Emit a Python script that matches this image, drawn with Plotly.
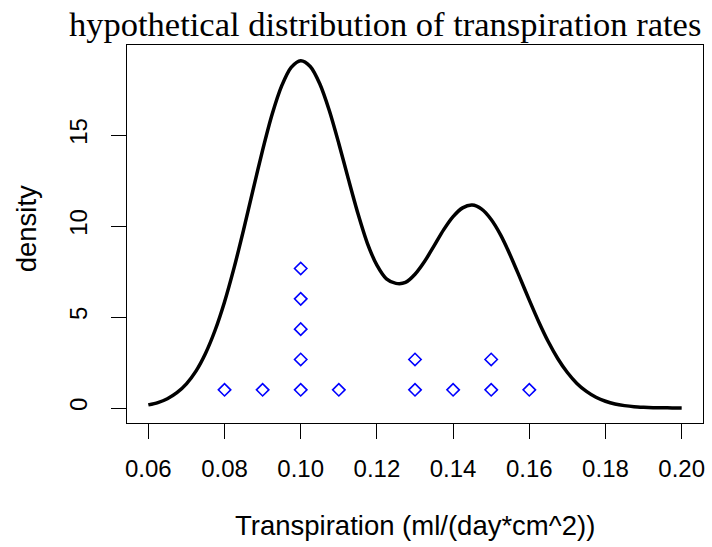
import plotly.graph_objects as go

# density curve
curve_x = [0.0600, 0.0625, 0.0650, 0.0675, 0.0700, 0.0725, 0.0750, 0.0775, 0.0800, 0.0825,
           0.0850, 0.0875, 0.0900, 0.0925, 0.0950, 0.0975, 0.1000, 0.1025, 0.1050, 0.1075,
           0.1100, 0.1125, 0.1150, 0.1175, 0.1200, 0.1225, 0.1250, 0.1275, 0.1300, 0.1325,
           0.1350, 0.1375, 0.1400, 0.1425, 0.1450, 0.1475, 0.1500, 0.1525, 0.1550, 0.1575,
           0.1600, 0.1625, 0.1650, 0.1675, 0.1700, 0.1725, 0.1750, 0.1775, 0.1800, 0.1825,
           0.1850, 0.1875, 0.1900, 0.1925, 0.1950, 0.1975, 0.2000]
curve_y = [0.17, 0.30, 0.51, 0.84, 1.33, 2.03, 3.00, 4.26, 5.83, 7.70,
           9.79, 12.00, 14.17, 16.14, 17.70, 18.72, 19.09, 18.77, 17.82, 16.35,
           14.54, 12.59, 10.70, 9.05, 7.85, 7.10, 6.85, 6.90, 7.35, 8.05,
           8.91, 9.79, 10.52, 11.00, 11.15, 10.93, 10.36, 9.50, 8.40, 7.18,
           5.93, 4.73, 3.64, 2.71, 1.95, 1.35, 0.91, 0.59, 0.37, 0.22,
           0.13, 0.07, 0.04, 0.02, 0.01, 0.005, 0.00]

# observed points (stacked dot plot)
pts_x = [0.08, 0.09, 0.10, 0.10, 0.10, 0.10, 0.10, 0.11, 0.13, 0.13, 0.14, 0.15, 0.15, 0.16]
pts_y = [1.0, 1.0, 1.0, 2.667, 4.333, 6.0, 7.667, 1.0, 1.0, 2.667, 1.0, 1.0, 2.667, 1.0]

x_ticks = [0.06, 0.08, 0.10, 0.12, 0.14, 0.16, 0.18, 0.20]
x_ticklabels = ["0.06", "0.08", "0.10", "0.12", "0.14", "0.16", "0.18", "0.20"]
y_ticks = [0, 5, 10, 15]

fig = go.Figure()
fig.add_trace(go.Scatter(x=curve_x, y=curve_y, mode="lines",
                         line=dict(color="black", width=3.5, shape="spline", smoothing=0.8),
                         showlegend=False, hoverinfo="skip"))
fig.add_trace(go.Scatter(x=pts_x, y=pts_y, mode="markers",
                         marker=dict(symbol="diamond-open", size=9.5, color="#0000FF",
                                     line=dict(color="#0000FF", width=1.6)),
                         showlegend=False))

tick_font = dict(family="Liberation Sans, Arial, sans-serif", size=24, color="black")
label_font = dict(family="Liberation Sans, Arial, sans-serif", size=27.5, color="black")

fig.update_layout(
    width=712, height=547,
    margin=dict(l=127, r=7, t=45, b=124),
    paper_bgcolor="white", plot_bgcolor="white",
    xaxis=dict(range=[0.0544, 0.2056], tickvals=x_ticks, ticktext=x_ticklabels,
               showgrid=False, zeroline=False, showline=True, linecolor="black",
               linewidth=1.3, mirror=True, ticks="outside", ticklen=15, tickwidth=1.3,
               tickcolor="black", tickfont=tick_font, ticklabelstandoff=9),
    yaxis=dict(range=[-0.824, 19.95], tickvals=y_ticks,
               showgrid=False, zeroline=False, showline=True, linecolor="black",
               linewidth=1.3, mirror=True, ticks="outside", ticklen=15, tickwidth=1.3,
               tickcolor="black", tickfont=tick_font, tickangle=-90, ticklabelstandoff=14),
    annotations=[
        dict(text="hypothetical distribution of transpiration rates", xref="paper", yref="paper",
             x=0.448, y=1.0, yshift=0, xanchor="center", yanchor="bottom", showarrow=False,
             font=dict(family="Liberation Serif, Times New Roman, serif", size=34.5, color="black")),
        dict(text="Transpiration (ml/(day*cm^2))", xref="paper", yref="paper",
             x=0.5, y=-0.27, xanchor="center", yanchor="middle", showarrow=False,
             font=label_font),
        dict(text="density", xref="paper", yref="paper",
             x=-0.175, y=0.513, xanchor="center", yanchor="middle", showarrow=False,
             textangle=-90, font=label_font),
    ],
)

fig.write_html("out.html")
